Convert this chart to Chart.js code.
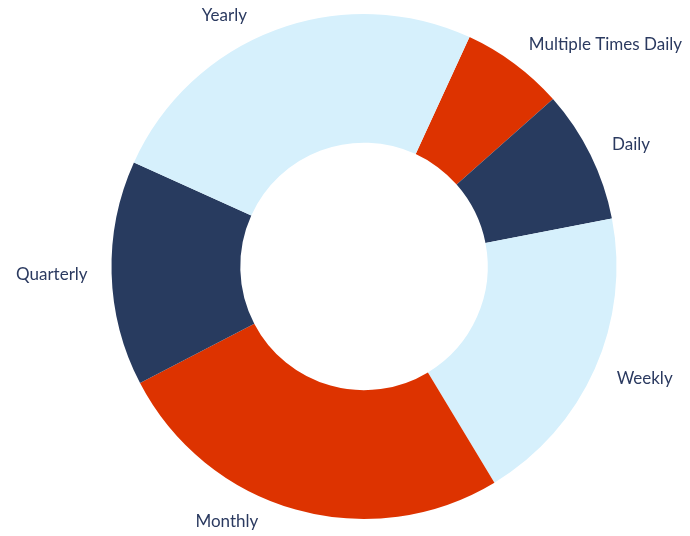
<!DOCTYPE html>
<html>
<head>
<meta charset="utf-8">
<script src="https://cdn.jsdelivr.net/npm/chart.js@4"></script>
<style>
  html, body { margin: 0; padding: 0; background: #fff; }
  #wrap { width: 690px; height: 536px; }
</style>
</head>
<body>
<div id="wrap"><canvas id="donut"></canvas></div>
<script>
// Data
const categories = ['Multiple Times Daily', 'Daily', 'Weekly', 'Monthly', 'Quarterly', 'Yearly'];
const shares = [6.6, 8.5, 19.4, 26.0, 14.4, 25.1];
const sliceColors = ['#DD3300', '#283B5F', '#D6F0FC', '#DD3300', '#283B5F', '#D6F0FC'];

// Draws the category names outside the ring
const outsideLabels = {
    id: 'outsideLabels',
    afterDatasetsDraw(chart) {
        const ctx = chart.ctx;
        const meta = chart.getDatasetMeta(0);
        const h = chart.height;
        ctx.save();
        ctx.font = '17px Lato, sans-serif';
        ctx.fillStyle = '#2B3A60';
        ctx.textBaseline = 'middle';
        meta.data.forEach(function (arc, i) {
            const p = arc.getProps(['x', 'y', 'startAngle', 'endAngle', 'outerRadius'], true);
            const mid = (p.startAngle + p.endAngle) / 2;
            const r = p.outerRadius + 24;
            let dx = Math.cos(mid) * r;
            let dy = Math.sin(mid) * r;
            let y = p.y + dy;
            // keep labels inside the canvas, sliding them along the circle
            const minY = 16, maxY = h - 14;
            if (y < minY || y > maxY) {
                y = Math.min(Math.max(y, minY), maxY);
                const ny = y - p.y;
                dx = Math.sign(dx) * Math.sqrt(Math.max(r * r - ny * ny, 0));
            }
            ctx.textAlign = dx >= 0 ? 'left' : 'right';
            ctx.fillText(categories[i], p.x + dx, y);
        });
        ctx.restore();
    }
};

document.addEventListener('DOMContentLoaded', function () {
    const canvas = document.getElementById('donut').getContext('2d');
    new Chart(canvas, {
        type: 'doughnut',
        data: {
            labels: categories,
            datasets: [{
                data: shares,
                backgroundColor: sliceColors,
                borderWidth: 0,
            }],
        },
        options: {
            responsive: true,
            maintainAspectRatio: false,
            animation: false,
            rotation: 24.7,
            cutout: '49%',
            layout: { padding: { top: 14, bottom: 17, left: 38, right: 0 } },
            plugins: {
                legend: { display: false },
                tooltip: { enabled: false },
            },
        },
        plugins: [outsideLabels],
    });
});
</script>
</body>
</html>
